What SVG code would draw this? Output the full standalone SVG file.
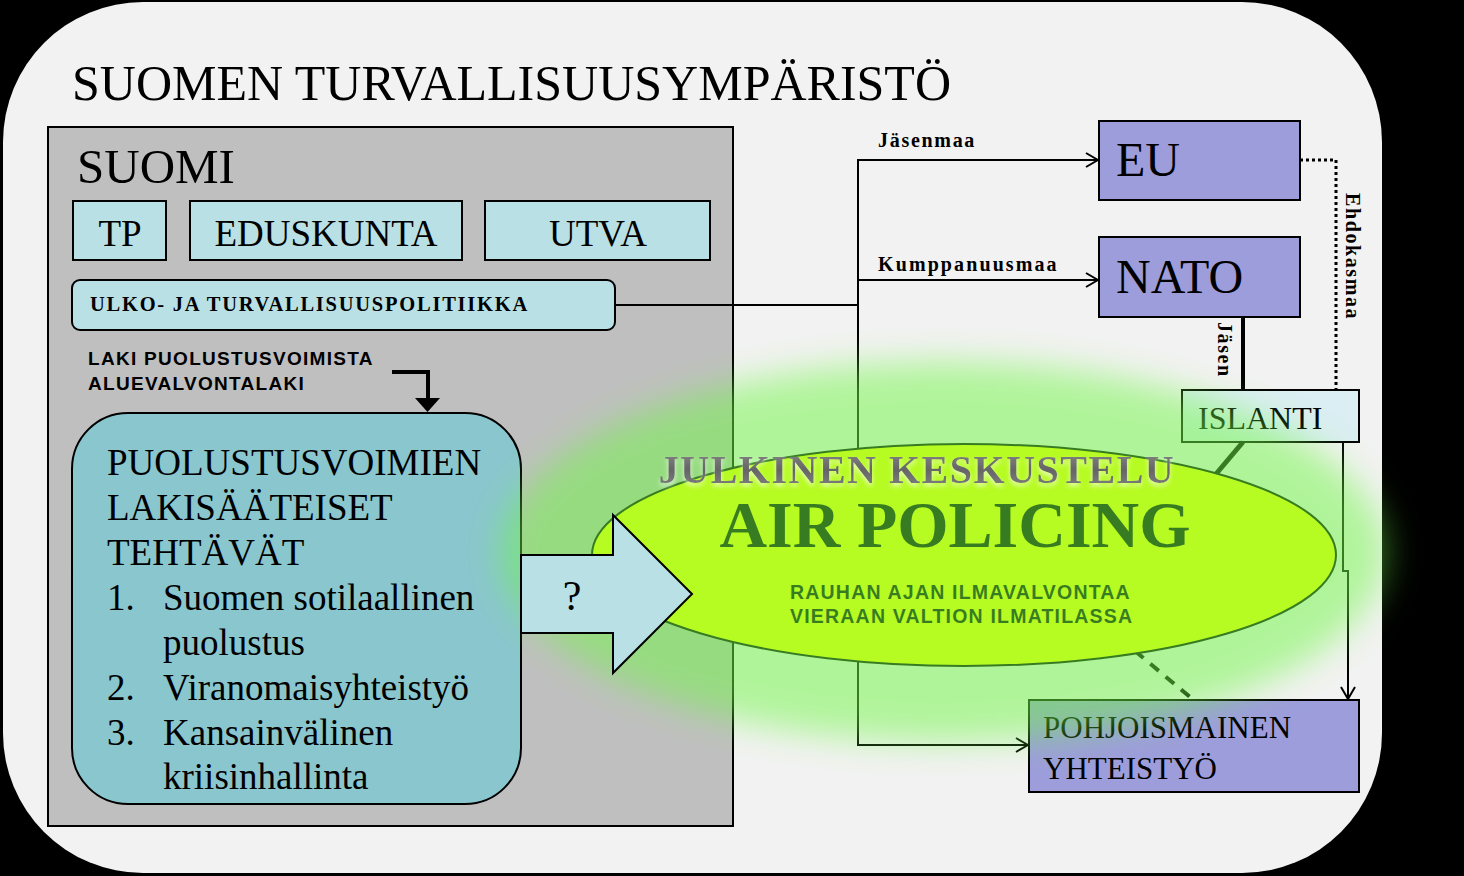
<svg xmlns="http://www.w3.org/2000/svg" width="1464" height="876" viewBox="0 0 1464 876">
<defs>
<style>
.serif{font-family:"Liberation Serif","Times New Roman",serif;fill:#000;}
.sans{font-family:"Liberation Sans",Arial,sans-serif;fill:#000;}
.box{stroke:#000;stroke-width:2;}
.lb{fill:#b9e0e5;}
.pur{fill:#9d9ddc;}
.conn{fill:none;stroke:#000;stroke-width:2;}
.clab{font-family:"Liberation Serif","Times New Roman",serif;font-weight:bold;font-size:20px;fill:#000;}
</style>
<marker id="open" viewBox="0 0 14 16" refX="13" refY="8" markerWidth="14" markerHeight="16" markerUnits="userSpaceOnUse" orient="auto">
<path d="M1,1 L13,8 L1,15" fill="none" stroke="#000" stroke-width="2"/>
</marker>
<filter id="blur" x="-20%" y="-40%" width="140%" height="180%"><feGaussianBlur stdDeviation="17"/></filter>
<filter id="shadow" x="-5%" y="-20%" width="110%" height="150%"><feDropShadow dx="0" dy="3" stdDeviation="2.5" flood-color="#ffffff" flood-opacity="0.7"/></filter>
<linearGradient id="grey" x1="0" y1="0" x2="0" y2="1">
<stop offset="0" stop-color="#8e8e8e"/>
<stop offset="0.5" stop-color="#656565"/>
<stop offset="1" stop-color="#858585"/>
</linearGradient>
</defs>

<rect x="0" y="0" width="1464" height="876" fill="#000"/>
<rect id="env" x="3" y="2" width="1379" height="871" rx="140" ry="140" fill="#f2f2f2"/>
<text class="serif" x="72" y="100" font-size="50">SUOMEN TURVALLISUUSYMPÄRISTÖ</text>

<g id="suomi">
<rect class="box" x="48" y="127" width="685" height="699" fill="#bfbfbf"/>
<text class="serif" x="77" y="183" font-size="49">SUOMI</text>
</g>
<g id="tp">
<rect class="box lb" x="73" y="201" width="93" height="59"/>
<text class="serif" x="120" y="246" font-size="37" text-anchor="middle">TP</text>
</g>
<g id="eduskunta">
<rect class="box lb" x="190" y="201" width="272" height="59"/>
<text class="serif" x="326" y="246" font-size="37" text-anchor="middle">EDUSKUNTA</text>
</g>
<g id="utva">
<rect class="box lb" x="485" y="201" width="225" height="59"/>
<text class="serif" x="598" y="246" font-size="37" text-anchor="middle">UTVA</text>
</g>
<g id="ulko">
<rect class="box lb" x="72" y="280" width="543" height="50" rx="8" ry="8"/>
<text class="serif" x="90" y="311" font-size="20.5" font-weight="bold" letter-spacing="1.75">ULKO- JA TURVALLISUUSPOLITIIKKA</text>
</g>
<g id="laki">
<text class="sans" x="88" y="365" font-size="19" font-weight="bold" letter-spacing="1.3">LAKI PUOLUSTUSVOIMISTA</text>
<text class="sans" x="88" y="390" font-size="19" font-weight="bold" letter-spacing="1.3">ALUEVALVONTALAKI</text>
<path d="M392,372 H428 V399" fill="none" stroke="#000" stroke-width="4"/>
<polygon points="415,398 440,398 427.5,412" fill="#000"/>
</g>
<g id="tehtavat">
<rect class="box" x="72" y="413" width="449" height="391" rx="56" ry="56" fill="#8ac6ce"/>
<g class="serif" font-size="37">
<text x="107" y="475">PUOLUSTUSVOIMIEN</text>
<text x="107" y="520">LAKISÄÄTEISET</text>
<text x="107" y="565">TEHTÄVÄT</text>
<text x="107" y="610">1.</text><text x="163" y="610">Suomen sotilaallinen</text>
<text x="163" y="655">puolustus</text>
<text x="107" y="700">2.</text><text x="163" y="700">Viranomaisyhteistyö</text>
<text x="107" y="745">3.</text><text x="163" y="745">Kansainvälinen</text>
<text x="163" y="789">kriisinhallinta</text>
</g>
</g>

<g id="eu">
<rect class="box pur" x="1099" y="121" width="201" height="79"/>
<text class="serif" x="1116" y="176" font-size="48">EU</text>
</g>
<g id="nato">
<rect class="box pur" x="1099" y="237" width="201" height="80"/>
<text class="serif" x="1116" y="293" font-size="48">NATO</text>
</g>
<g id="islanti">
<rect class="box" x="1182" y="390" width="177" height="52" fill="#dbeef3"/>
<text class="serif" x="1198" y="429" font-size="32">ISLANTI</text>
</g>
<g id="pohjoismainen">
<rect class="box pur" x="1029" y="700" width="330" height="92"/>
<text class="serif" x="1043" y="738" font-size="31">POHJOISMAINEN</text>
<text class="serif" x="1043" y="779" font-size="31">YHTEISTYÖ</text>
</g>

<g id="connectors">
<path class="conn" d="M615,305 H858"/>
<path class="conn" d="M858,305 V160 H1098" marker-end="url(#open)"/>
<path class="conn" d="M858,305 V280 H1098" marker-end="url(#open)"/>
<path class="conn" d="M858,305 V745 H1028" marker-end="url(#open)"/>
<text class="clab" x="878" y="147" letter-spacing="1.7">Jäsenmaa</text>
<text class="clab" x="878" y="271" letter-spacing="2.1">Kumppanuusmaa</text>
<path d="M1300,160 H1336 V390" fill="none" stroke="#000" stroke-width="3" stroke-dasharray="3 3"/>
<text class="clab" transform="translate(1346,193) rotate(90)" letter-spacing="1.6">Ehdokasmaa</text>
<path d="M1243,317 V390" fill="none" stroke="#000" stroke-width="4"/>
<text class="clab" transform="translate(1218,322) rotate(90)" letter-spacing="1.6">Jäsen</text>
<path class="conn" d="M1343,442 V571 H1348 V699" marker-end="url(#open)"/>
<path d="M1243,442 L1216,474" fill="none" stroke="#000" stroke-width="5"/>
<path d="M1135,651 L1190,697" fill="none" stroke="#000" stroke-width="4" stroke-dasharray="11 9"/>
</g>

<g id="airpolicing">
<ellipse cx="964" cy="555" rx="372" ry="111" fill="#ffff00" stroke="#000" stroke-width="2"/>
<text class="serif" x="955" y="547" font-size="66" font-weight="bold" text-anchor="middle">AIR POLICING</text>
<text class="sans" x="790" y="599" font-size="19.5" font-weight="bold" letter-spacing="1.2">RAUHAN AJAN ILMAVALVONTAA</text>
<text class="sans" x="790" y="623" font-size="19.5" font-weight="bold" letter-spacing="1.2">VIERAAN VALTION ILMATILASSA</text>
</g>

<g id="glow">
<ellipse cx="943" cy="552" rx="442" ry="190" fill="#6ef842" fill-opacity="0.5" filter="url(#blur)"/>
</g>

<g id="question">
<polygon class="box" points="521,555 613,555 613,515 692,594 613,673 613,633 521,633" fill="#b9e0e4"/>
<text class="serif" x="572" y="610" font-size="42" text-anchor="middle">?</text>
</g>

<g id="julkinen">
<text x="917" y="483" font-family="Liberation Serif, Times New Roman, serif" font-size="40" font-weight="bold" letter-spacing="1.5" text-anchor="middle" fill="url(#grey)" filter="url(#shadow)">JULKINEN KESKUSTELU</text>
</g>
</svg>
